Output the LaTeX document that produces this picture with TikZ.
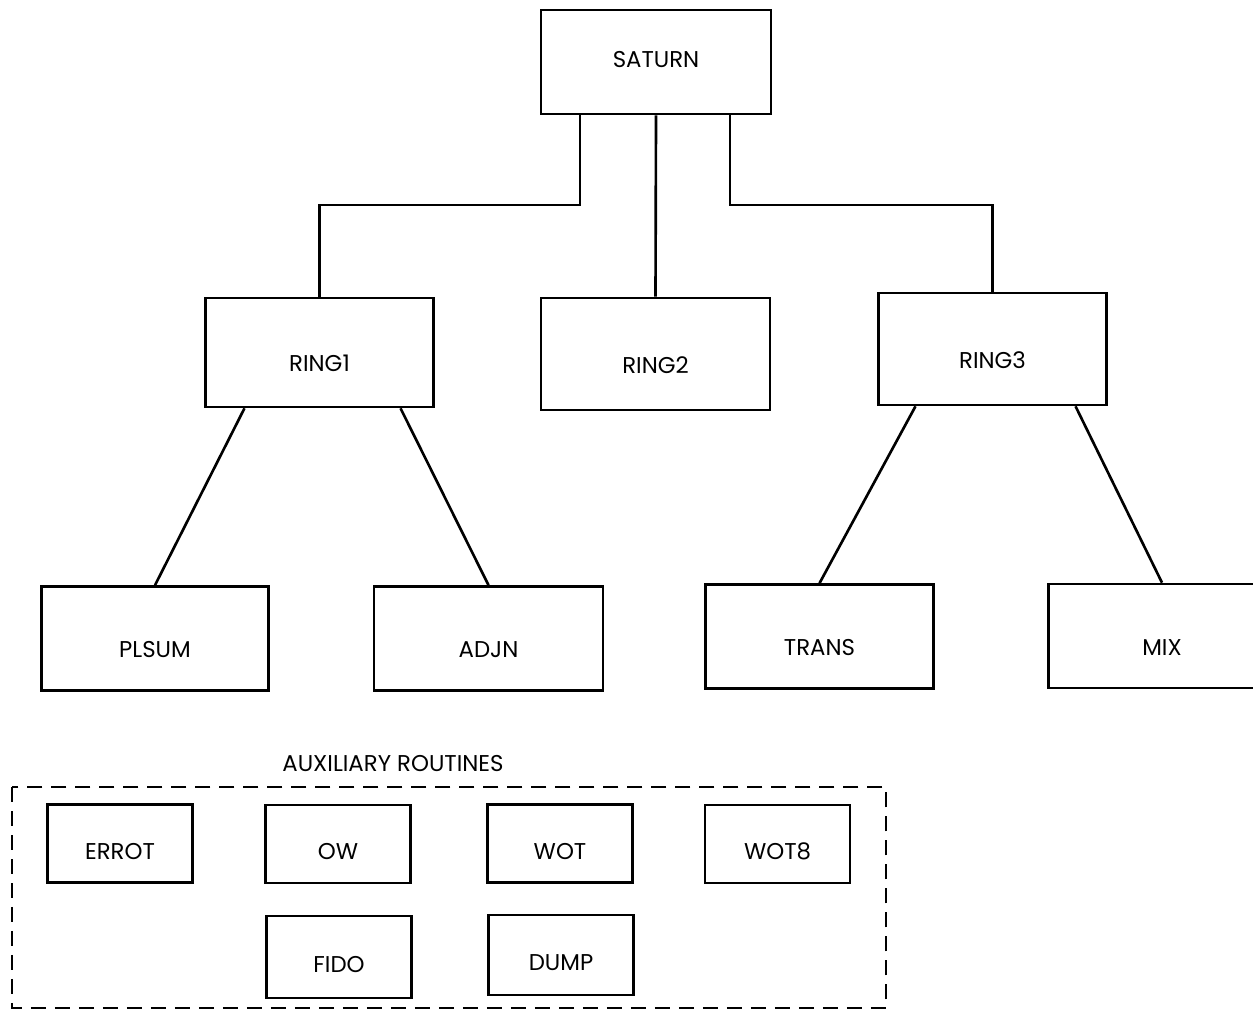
\documentclass[tikz,border=0pt]{standalone}
\usepackage{fontspec}
\setmainfont{Poppins}
\usetikzlibrary{calc}

\tikzset{
    module/.style={draw, inner sep=0pt, minimum width=4.55cm, minimum height=2.08cm,
        text height=0.76cm, text depth=0pt},
    routine/.style={draw, inner sep=0pt, minimum width=2.9cm, minimum height=1.56cm,
        text height=0.62cm, text depth=0pt}
}

\begin{document}
\begin{tikzpicture}[x=0.02cm, y=-0.02cm, line width=1.5pt, font=\fontsize{13}{15}\selectfont]

        \path[use as bounding box, clip] (0,0) rectangle (1253,1012);

        %main program
        \node[module, minimum width=4.6cm, text height=0.2cm] (saturn) at (656,62) {SATURN};

        %rings
        \node[module, minimum height=2.18cm] (ring1) at (319.5,352.5) {RING1};
        \node[module, minimum width=4.58cm, minimum height=2.24cm] (ring2) at (655.5,354) {RING2};
        \node[module, minimum height=2.24cm] (ring3) at (992.5,349) {RING3};

        %lower routines
        \node[module] (plsum) at (155,638.5) {PLSUM};
        \node[module, minimum width=4.58cm] (adjn) at (488.5,638.5) {ADJN};
        \node[module] (trans) at (819.5,636.5) {TRANS};
        \node[module] (mix) at (1162,636) {MIX};

        %lines
        \coordinate (bus) at (656,205);
        \draw ($(saturn.south)+(-76,0)$) |- (bus -| ring1.north) -- (ring1.north);
        \draw (saturn.south) -- (ring2.north);
        \draw ($(saturn.south)+(74,0)$) |- (bus -| ring3.north) -- (ring3.north);

        \path[-]
            ($(ring1.south west)+(40,0)$) edge (plsum.north)
            ($(ring1.south east)+(-34,0)$) edge (adjn.north)
            ($(ring3.south west)+(38,0)$) edge (trans.north)
            ($(ring3.south east)+(-32,0)$) edge (mix.north);

        %auxiliary routines
        \node (auxtitle) at (393,763) {AUXILIARY ROUTINES};
        \draw[dash pattern=on 0.3cm off 0.18cm] (12,787) rectangle (886,1008);

        \node[routine] (errot) at (120,843.5) {ERROT};
        \node[routine] (ow) at (338,844) {OW};
        \node[routine] (wot) at (560,843.5) {WOT};
        \node[routine] (wot8) at (777.5,844) {WOT8};
        \node[routine, minimum height=1.64cm] (fido) at (339,957) {FIDO};
        \node[routine, minimum height=1.6cm] (dump) at (561,955) {DUMP};

\end{tikzpicture}
\end{document}
